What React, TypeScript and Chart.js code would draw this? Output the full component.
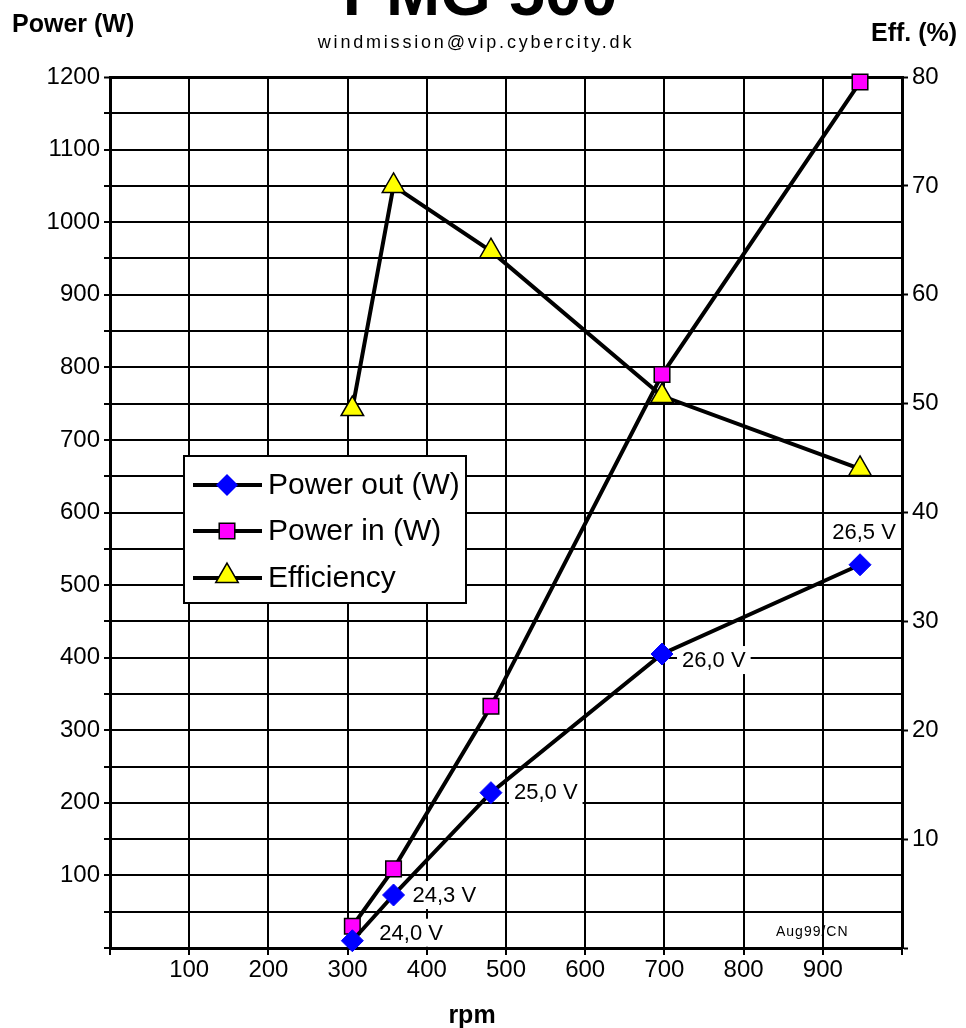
import React, { useEffect, useRef } from 'react';
import { Chart, registerables } from 'chart.js';

Chart.register(...registerables);

// ---- data ----
const rpm = [306, 358, 481, 697, 947];
const powerOut = [10, 73, 214, 405, 528];
const powerIn = [30, 109, 333, 790, 1193];
const efficiency = [49.5, 70, 64, 50.7, 44];
const voltLabels = ['24,0 V', '24,3 V', '25,0 V', '26,0 V', '26,5 V'];
const seriesNames = ['Power out (W)', 'Power in (W)', 'Efficiency'];
const rpmTickLabels = ['100', '200', '300', '400', '500', '600', '700', '800', '900'];
const powerTickLabels = ['100', '200', '300', '400', '500', '600', '700', '800', '900', '1000', '1100', '1200'];
const effTickLabels = ['10', '20', '30', '40', '50', '60', '70', '80'];
const titleText = 'PMG 500';
const subtitleText = 'windmission@vip.cybercity.dk';
const leftAxisTitle = 'Power (W)';
const rightAxisTitle = 'Eff. (%)';
const xAxisTitle = 'rpm';
const creditText = 'Aug99/CN';

// ---- styling ----
const FONT = "'Liberation Sans', Arial, Helvetica, sans-serif";
const BLUE = '#0000ff';
const MAGENTA = '#ff00ff';
const YELLOW = '#ffff00';
// label offsets relative to the Power-out point [dx (left edge), dy (center)], last one centered
const labelOffsets: [number, number, string][] = [
  [27, -8, 'left'],
  [19, 0, 'left'],
  [23, -1, 'left'],
  [20, 6, 'left'],
  [4, -33, 'center'],
];

function drawMarker(ctx: CanvasRenderingContext2D, kind: number, x: number, y: number) {
  ctx.save();
  ctx.beginPath();
  if (kind === 0) {
    const r = 11;
    ctx.moveTo(x - r, y);
    ctx.lineTo(x, y - r);
    ctx.lineTo(x + r, y);
    ctx.lineTo(x, y + r);
    ctx.closePath();
    ctx.fillStyle = BLUE;
    ctx.fill();
  } else if (kind === 1) {
    const s = 11 * Math.SQRT1_2;
    ctx.rect(x - s, y - s, 2 * s, 2 * s);
    ctx.fillStyle = MAGENTA;
    ctx.fill();
    ctx.lineWidth = 1.5;
    ctx.strokeStyle = '#000';
    ctx.stroke();
  } else {
    const r = 13;
    for (let k = 0; k < 3; k++) {
      const a = (k * 2 * Math.PI) / 3;
      const px = x + Math.sin(a) * r;
      const py = y - Math.cos(a) * r;
      if (k === 0) ctx.moveTo(px, py);
      else ctx.lineTo(px, py);
    }
    ctx.closePath();
    ctx.fillStyle = YELLOW;
    ctx.fill();
    ctx.lineWidth = 1.5;
    ctx.strokeStyle = '#000';
    ctx.stroke();
  }
  ctx.restore();
}

function drawText(
  ctx: CanvasRenderingContext2D,
  s: string,
  x: number,
  y: number,
  font: string,
  align: CanvasTextAlign = 'left',
  spacing = '0px'
) {
  ctx.save();
  ctx.font = font;
  ctx.fillStyle = '#000';
  ctx.textAlign = align;
  ctx.textBaseline = 'alphabetic';
  (ctx as any).letterSpacing = spacing;
  ctx.fillText(s, x, y);
  ctx.restore();
}

const decorPlugin = {
  id: 'decor',
  beforeDatasetsDraw(chart: any) {
    const ctx: CanvasRenderingContext2D = chart.ctx;
    const xs = chart.scales.x;
    const ys = chart.scales.y;
    ctx.save();
    ctx.font = `22px ${FONT}`;
    voltLabels.forEach((lab, i) => {
      const px = xs.getPixelForValue(rpm[i]);
      const py = ys.getPixelForValue(powerOut[i]);
      const [dx, dy, align] = labelOffsets[i];
      const w = ctx.measureText(lab).width;
      const left = align === 'center' ? px + dx - w / 2 : px + dx;
      const cy = py + dy;
      ctx.fillStyle = '#fff';
      ctx.fillRect(left - 5, cy - 14, w + 10, 28);
      ctx.fillStyle = '#000';
      ctx.textAlign = 'left';
      ctx.textBaseline = 'middle';
      ctx.fillText(lab, left, cy + 1);
    });
    ctx.restore();
    // credit text
    drawText(ctx, creditText, 776, 936, `14px ${FONT}`, 'left', '1px');
  },
  afterDatasetsDraw(chart: any) {
    const ctx: CanvasRenderingContext2D = chart.ctx;
    // legend box
    const bx = 184, by = 456, bw = 282, bh = 147;
    ctx.save();
    ctx.fillStyle = '#fff';
    ctx.fillRect(bx, by, bw, bh);
    ctx.lineWidth = 2;
    ctx.strokeStyle = '#000';
    ctx.strokeRect(bx, by, bw, bh);
    const rows = [485, 531, 578];
    seriesNames.forEach((name, i) => {
      const y = rows[i];
      ctx.beginPath();
      ctx.moveTo(193, y);
      ctx.lineTo(262, y);
      ctx.lineWidth = 4;
      ctx.strokeStyle = '#000';
      ctx.stroke();
      drawMarker(ctx, i, 227, i === 2 ? y - 2 : y);
      ctx.font = `30px ${FONT}`;
      ctx.fillStyle = '#000';
      ctx.textAlign = 'left';
      ctx.textBaseline = 'middle';
      ctx.fillText(name, 268, y + 1);
    });
    ctx.restore();
  },
  afterDraw(chart: any) {
    const ctx: CanvasRenderingContext2D = chart.ctx;
    drawText(ctx, titleText, 480, 15, `bold 65px ${FONT}`, 'center');
    drawText(ctx, leftAxisTitle, 12, 32, `bold 25px ${FONT}`, 'left');
    drawText(ctx, subtitleText, 476, 48, `18px ${FONT}`, 'center', '2.8px');
    drawText(ctx, rightAxisTitle, 871, 41, `bold 25px ${FONT}`, 'left');
    drawText(ctx, xAxisTitle, 472, 1023, `bold 25px ${FONT}`, 'center');
  },
};

export default function App() {
  const canvasRef = useRef<HTMLCanvasElement | null>(null);

  useEffect(() => {
    const canvas = canvasRef.current;
    if (!canvas) return;
    Chart.defaults.font.family = FONT;
    Chart.defaults.color = '#000';

    const tickFont = { size: 24, family: FONT };
    const chart = new Chart(canvas, {
      type: 'line',
      data: {
        datasets: [
          {
            label: seriesNames[0],
            data: rpm.map((x, i) => ({ x, y: powerOut[i] })),
            yAxisID: 'y',
            borderColor: '#000',
            borderWidth: 4,
            pointStyle: 'rectRot',
            pointRadius: 11,
            pointBackgroundColor: BLUE,
            pointBorderColor: BLUE,
            pointBorderWidth: 1,
            clip: false,
            tension: 0,
          },
          {
            label: seriesNames[1],
            data: rpm.map((x, i) => ({ x, y: powerIn[i] })),
            yAxisID: 'y',
            borderColor: '#000',
            borderWidth: 4,
            pointStyle: 'rect',
            pointRadius: 11,
            pointBackgroundColor: MAGENTA,
            pointBorderColor: '#000',
            pointBorderWidth: 1.5,
            clip: false,
            tension: 0,
          },
          {
            label: seriesNames[2],
            data: rpm.map((x, i) => ({ x, y: efficiency[i] })),
            yAxisID: 'y1',
            borderColor: '#000',
            borderWidth: 4,
            pointStyle: 'triangle',
            pointRadius: 13,
            pointBackgroundColor: YELLOW,
            pointBorderColor: '#000',
            pointBorderWidth: 1.5,
            clip: false,
            tension: 0,
          },
        ],
      },
      options: {
        animation: false,
        responsive: false,
        devicePixelRatio: 1,
        layout: { padding: { top: 77, left: 0, right: 0, bottom: 0 } },
        plugins: {
          legend: { display: false },
          tooltip: { enabled: false },
          title: { display: false },
        },
        scales: {
          x: {
            type: 'linear',
            position: 'bottom',
            min: 0,
            max: 1000,
            ticks: {
              stepSize: 100,
              autoSkip: false,
              maxRotation: 0,
              color: '#000',
              font: tickFont,
              padding: 1,
              callback: (v: any) => (rpmTickLabels.includes(String(v)) ? String(v) : ''),
            },
            grid: { color: '#000', lineWidth: 2, tickLength: 7, tickColor: '#000', tickWidth: 2 },
            border: { color: '#000', width: 3 },
            afterFit: (s: any) => {
              s.height = 80;
            },
          },
          y: {
            type: 'linear',
            position: 'left',
            min: 0,
            max: 1200,
            ticks: {
              stepSize: 50,
              autoSkip: false,
              color: '#000',
              font: tickFont,
              padding: 4,
              callback: (v: any) => (powerTickLabels.includes(String(v)) ? String(v) : ''),
            },
            grid: {
              color: '#000',
              lineWidth: (c: any) => (c.tick && c.tick.value === 1200 ? 3 : 2),
              tickLength: 6,
              tickColor: '#000',
              tickWidth: 2,
            },
            border: { color: '#000', width: 3 },
            afterFit: (s: any) => {
              s.width = 110;
            },
          },
          y1: {
            type: 'linear',
            position: 'right',
            min: 0,
            max: 80,
            ticks: {
              stepSize: 10,
              autoSkip: false,
              color: '#000',
              font: tickFont,
              padding: 4,
              callback: (v: any) => (effTickLabels.includes(String(v)) ? String(v) : ''),
            },
            grid: { drawOnChartArea: false, color: '#000', tickLength: 6, tickWidth: 2 },
            border: { color: '#000', width: 3 },
            afterFit: (s: any) => {
              s.width = 64;
            },
          },
        },
      } as any,
      plugins: [decorPlugin],
    });
    return () => chart.destroy();
  }, []);

  return (
    <div style={{ position: 'absolute', left: 0, top: 0, width: 966, height: 1028, background: '#fff' }}>
      <canvas ref={canvasRef} width={966} height={1028} style={{ display: 'block', width: 966, height: 1028 }} />
    </div>
  );
}
